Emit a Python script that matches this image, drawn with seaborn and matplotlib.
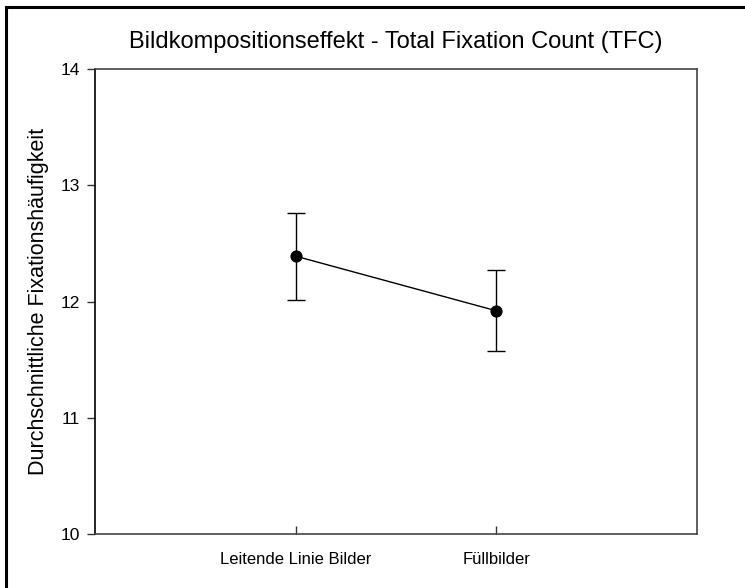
import matplotlib
matplotlib.use("Agg")
import matplotlib.pyplot as plt
import seaborn as sns
import pandas as pd
from matplotlib.patches import Rectangle

categories = ["Leitende Linie Bilder", "Füllbilder"]
means = [12.39, 11.92]
errors = [0.375, 0.347]
y_ticks = [10, 11, 12, 13, 14]

title = "Bildkompositionseffekt - Total Fixation Count (TFC)"
ylabel = "Durchschnittliche Fixationshäufigkeit"

sns.set_theme(style="white")
plt.rcParams["font.family"] = ["Liberation Sans", "DejaVu Sans"]
plt.rcParams["text.color"] = "black"
plt.rcParams["axes.labelcolor"] = "black"
plt.rcParams["xtick.color"] = "black"
plt.rcParams["ytick.color"] = "black"

df = pd.DataFrame({"cat": categories, "mean": means})

fig = plt.figure(figsize=(7.45, 5.88), dpi=100)
ax = fig.add_axes([95/745, 54/588, 602/745, 465/588])

sns.pointplot(data=df, x="cat", y="mean", color="black", errorbar=None,
              markers="o", linestyles="-", ax=ax,
              markersize=8, linewidth=1.0)
ax.errorbar(range(len(categories)), means, yerr=errors, fmt="none",
            ecolor="black", elinewidth=1.0, capsize=6.5, capthick=1.0, zorder=1)

ax.set_xlim(-1, 2)
ax.set_ylim(10, 14)
ax.set_yticks(y_ticks)
ax.set_yticklabels([str(t) for t in y_ticks], fontsize=12.5, color="black")
ax.set_xticks(range(len(categories)))
ax.set_xticklabels(categories, fontsize=12, color="black")
ax.set_xlabel("")
ax.set_ylabel(ylabel, fontsize=15.5, labelpad=8, color="black")
ax.set_title(title, fontsize=17, pad=15, color="black")

ax.tick_params(axis="y", direction="out", length=6, width=1, color="#333333", left=True, pad=5)
ax.tick_params(axis="x", direction="in", length=6, width=1, color="#333333", bottom=True, pad=13)
for s in ax.spines.values():
    s.set_visible(True)
    s.set_color("#444444")
    s.set_linewidth(1.2)
ax.spines["left"].set_color("black")

fig.patches.append(Rectangle((6.5/745, -0.1), 1.2, (588-6.5)/588 + 0.1,
                             transform=fig.transFigure, fill=False,
                             edgecolor="black", linewidth=2.2, zorder=10))

fig.savefig("out.png", dpi=100)
